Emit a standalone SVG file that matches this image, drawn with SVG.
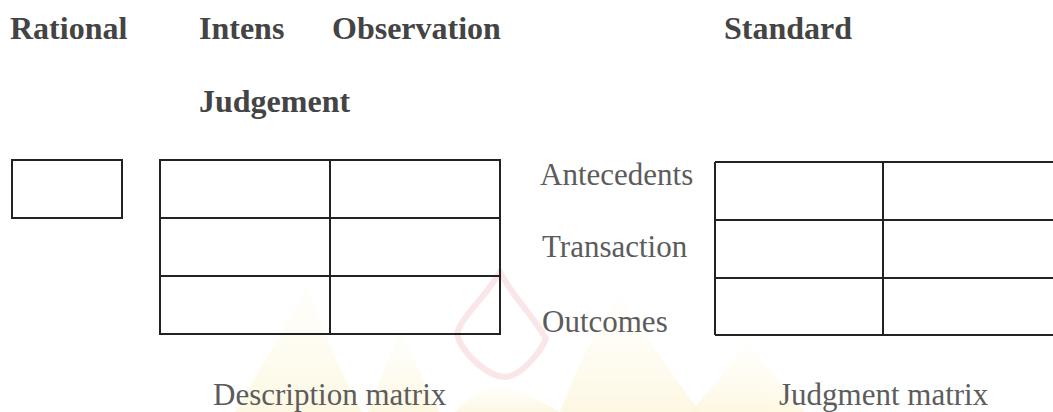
<svg xmlns="http://www.w3.org/2000/svg" width="1053" height="412" viewBox="0 0 1053 412">
  <defs>
    <style>
      .hd { font-family: "Liberation Serif", "Times New Roman", serif; font-weight: bold; font-size: 32px; fill: #444444; }
      .lb { font-family: "Liberation Serif", "Times New Roman", serif; font-size: 31px; fill: #5c5c5c; }
      .box { fill: none; stroke: #222222; stroke-width: 2; }
      .ln { stroke: #222222; stroke-width: 2; fill: none; }
    </style>
    <linearGradient id="yg" x1="0" y1="0" x2="0" y2="1">
      <stop offset="0" stop-color="#fffbe8" stop-opacity="0.2"/>
      <stop offset="1" stop-color="#fdf1c4" stop-opacity="0.8"/>
    </linearGradient>
  </defs>
  <rect width="1053" height="412" fill="#ffffff"/>

  <!-- faint background watermark -->
  <g id="watermark" opacity="0.6">
    <path d="M235,412 C265,360 290,320 307,282 C318,320 340,370 362,412 Z" fill="url(#yg)"/>
    <path d="M368,412 C380,380 392,350 402,330 C412,355 425,385 440,412 Z" fill="url(#yg)"/>
    <path d="M455,412 C470,395 485,388 500,385 C520,390 540,400 560,412 Z" fill="url(#yg)"/>
    <path d="M560,412 C580,360 600,320 620,295 C640,330 670,370 700,412 Z" fill="url(#yg)"/>
    <path d="M690,412 C715,385 735,360 748,340 C765,365 785,390 805,412 Z" fill="url(#yg)"/>
    <path d="M500,272 C485,298 460,318 457,334 C462,355 490,377 505,377 C522,376 540,352 546,339 C535,318 512,296 500,272 Z" fill="none" stroke="#f3c4c9" stroke-width="6" opacity="0.7"/>
  </g>

  <g id="headings">
    <text class="hd" x="10" y="39">Rational</text>
    <text class="hd" x="199" y="39">Intens</text>
    <text class="hd" x="332" y="39">Observation</text>
    <text class="hd" x="724" y="39">Standard</text>
    <text class="hd" x="199" y="112">Judgement</text>
  </g>

  <g id="rational-box">
    <rect class="box" x="12" y="160" width="110" height="58"/>
  </g>

  <g id="description-matrix">
    <rect class="box" x="160" y="160" width="340" height="174"/>
    <line class="ln" x1="160" y1="218" x2="500" y2="218"/>
    <line class="ln" x1="160" y1="276" x2="500" y2="276"/>
    <line class="ln" x1="330" y1="160" x2="330" y2="334"/>
    <text class="lb" x="213" y="405">Description matrix</text>
  </g>

  <g id="row-labels">
    <text class="lb" x="540" y="185">Antecedents</text>
    <text class="lb" x="542" y="257">Transaction</text>
    <text class="lb" x="542" y="332">Outcomes</text>
  </g>

  <g id="judgment-matrix">
    <line class="ln" x1="715" y1="162" x2="1053" y2="162"/>
    <line class="ln" x1="715" y1="220" x2="1053" y2="220"/>
    <line class="ln" x1="715" y1="278" x2="1053" y2="278"/>
    <line class="ln" x1="715" y1="335" x2="1053" y2="335"/>
    <line class="ln" x1="715" y1="162" x2="715" y2="335"/>
    <line class="ln" x1="883" y1="162" x2="883" y2="335"/>
    <text class="lb" x="779" y="405">Judgment matrix</text>
  </g>

  <g id="connectors"></g>
</svg>
